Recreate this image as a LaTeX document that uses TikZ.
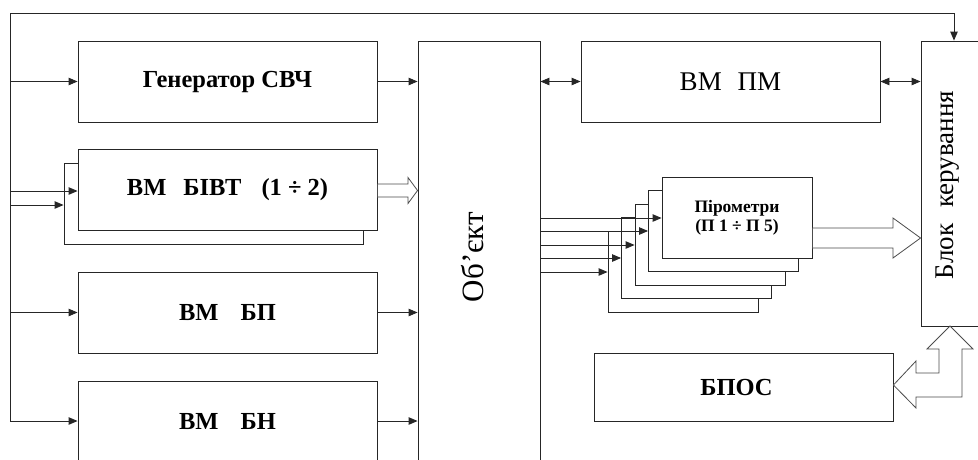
\documentclass[tikz,border=0pt]{standalone}
\usepackage{fontspec}
\setmainfont{Liberation Serif}
\usetikzlibrary{arrows.meta,calc}
\begin{document}
\begin{tikzpicture}[x=1pt,y=-1pt,
  ln/.style={line width=0.9pt,draw=black!85},
  blk/.style={ln,fill=white,inner sep=0pt,align=center},
  arr/.style={ln,-{Triangle[length=9pt,width=7.5pt]}},
  darr/.style={ln,{Triangle[length=9pt,width=7.5pt]}-{Triangle[length=9pt,width=7.5pt]}},
  hollow/.style={line width=0.8pt,draw=black!70,fill=white,line join=miter},
  bigB/.style={font=\fontsize{24.5}{28}\selectfont\bfseries},
  bigR/.style={font=\fontsize{27}{30}\selectfont},
]
\useasboundingbox (0,0) rectangle (978,459);
\clip (0,0) rectangle (978,459);

% blocks
\node[blk,bigB,minimum width=299pt,minimum height=81pt] (gen) at (227.5,81.5) {Генератор СВЧ};
\node[blk,minimum width=299pt,minimum height=81pt] (bivtb) at (213.5,203.5) {};
\node[blk,bigB,minimum width=299pt,minimum height=81pt] (bivt) at (227.5,189.5) {ВМ\hspace{17pt}БІВТ\hspace{20pt}(1 ÷ 2)};
\node[blk,bigB,minimum width=299pt,minimum height=81pt] (bp) at (227.5,312.5) {ВМ\hspace{22pt}БП};
\node[blk,bigB,minimum width=299pt,minimum height=81pt] (bn) at (227.5,421.5) {ВМ\hspace{22pt}БН};
\node[blk,minimum width=122pt,minimum height=439pt] (obj) at (479,260.5) {};
\node[font=\fontsize{31}{34}\selectfont,rotate=90] (objt) at (473,257) {Об’єкт};
\node[blk,bigR,minimum width=299pt,minimum height=81pt] (vmpm) at (730.5,81.5) {ВМ\hspace{16pt}ПМ};
\node[blk,minimum width=69pt,minimum height=285pt] (blok) at (955.5,183.5) {};
\node[bigR,rotate=90] (blokt) at (948,185) {Блок\hspace{16pt}керування};
\node[blk,minimum width=150pt,minimum height=81pt] (p5) at (683,271.5) {};
\node[blk,minimum width=150pt,minimum height=81pt] (p4) at (696.5,258) {};
\node[blk,minimum width=150pt,minimum height=81pt] (p3) at (710,244.5) {};
\node[blk,minimum width=150pt,minimum height=81pt] (p2) at (723.5,231) {};
\node[blk,minimum width=150pt,minimum height=81pt,font=\fontsize{17.5}{20}\selectfont\bfseries] (p1) at (737,217.5) {Пірометри\\[-1pt](П 1 ÷ П 5)};
\node[blk,bigB,minimum width=299pt,minimum height=68pt] (bpos) at (743.5,387) {БПОС\hspace*{14pt}};

% bus
\coordinate (tl) at (10,13);
\coordinate (tr) at (954,13);
\coordinate (bl) at (10,421);
\draw[ln] (bl) -- (tl) -- (tr);
\draw[arr] (tr) -- (tr |- blok.north);
\draw[arr] (tl |- gen.west) -- (gen.west);
\draw[arr] (10,191) -- (bivt.west |- 0,191);
\draw[arr] (10,205) -- (bivtb.west |- 0,205);
\draw[arr] (tl |- bp.west) -- (bp.west);
\draw[arr] (bl) -- (bn.west |- bl);

% to object
\draw[arr] (gen.east) -- (gen.east -| obj.west);
\draw[arr] (bp.east) -- (bp.east -| obj.west);
\draw[arr] (bn.east |- bl) -- (obj.west |- bl);
\draw[darr] (obj.east |- vmpm.west) -- (vmpm.west);
\draw[darr] (vmpm.east) -- (vmpm.east -| blok.west);

% object -> pyrometers
\draw[arr] (obj.east |- 0,218) -- (p1.west |- 0,218);
\draw[arr] (obj.east |- 0,231) -- (p2.west |- 0,231);
\draw[arr] (obj.east |- 0,245) -- (p3.west |- 0,245);
\draw[arr] (obj.east |- 0,258) -- (p4.west |- 0,258);
\draw[arr] (obj.east |- 0,272) -- (p5.west |- 0,272);

% hollow arrows
\draw[hollow] (bivt.east |- 0,184) -- (408,184) -- (408,177.5) -- (obj.west |- 0,190.5) -- (408,203.5) -- (408,197) -- (bivt.east |- 0,197) -- cycle;
\draw[hollow] (p1.east |- 0,228) -- (893,228) -- (893,218) -- (blok.west |- 0,238) -- (893,258) -- (893,248) -- (p1.east |- 0,248) -- cycle;
\draw[hollow] (950,326) -- (927,349) -- (939,349) -- (939,373) -- (916,373) -- (916,361) -- (bpos.east |- 0,385) -- (916,408) -- (916,397) -- (962,397) -- (962,349) -- (973,349) -- cycle;
\end{tikzpicture}
\end{document}
